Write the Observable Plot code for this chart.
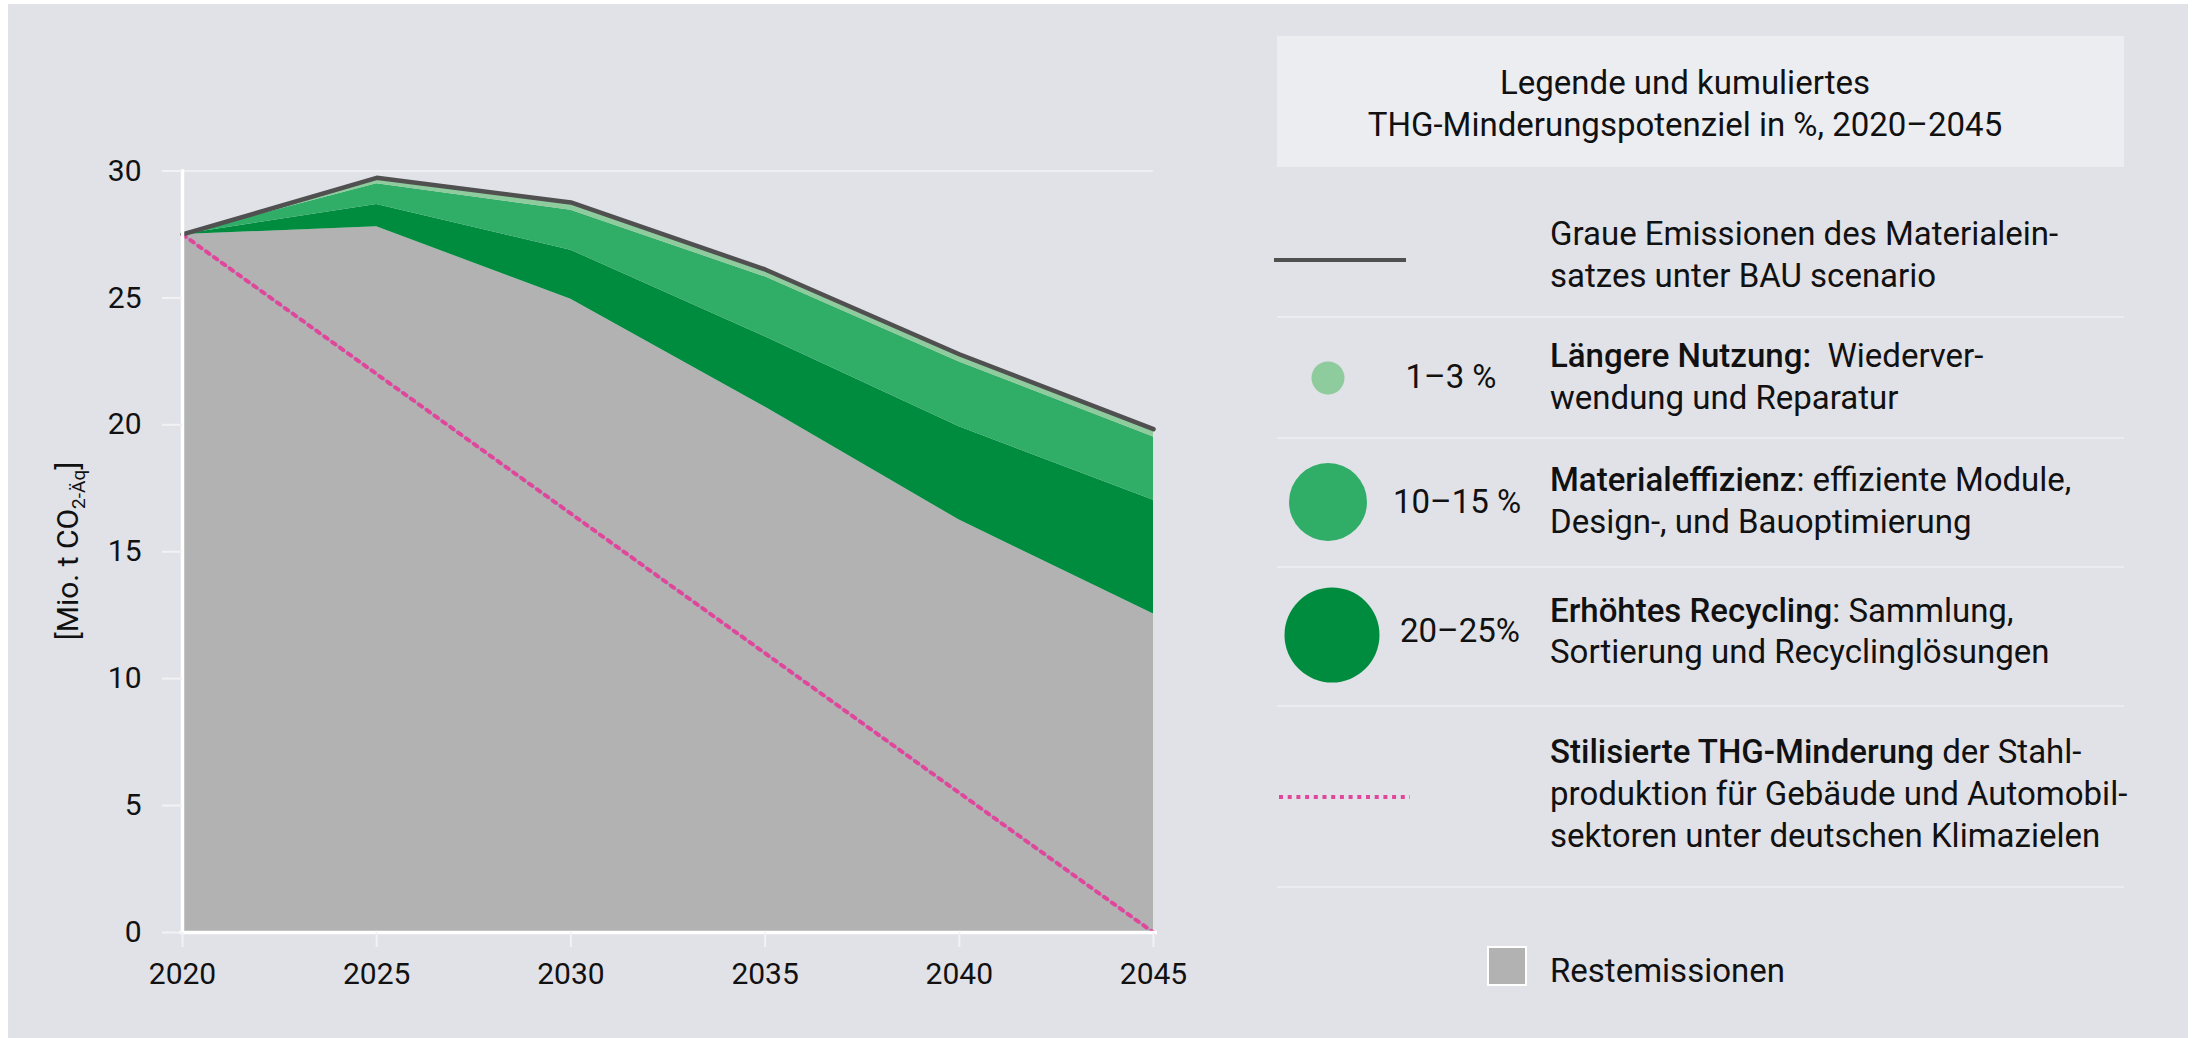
<!DOCTYPE html>
<html>
<head>
<meta charset="utf-8">
<script src="https://cdn.jsdelivr.net/npm/d3@7"></script>
<script src="https://cdn.jsdelivr.net/npm/@observablehq/plot@0.6"></script>
<style>
  html, body { margin: 0; padding: 0; background: #ffffff; width: 2193px; height: 1038px; overflow: hidden; }
  #panel { position: absolute; left: 8px; top: 4px; width: 2180px; height: 1034px; background: #e1e2e7; }
  #chart { position: absolute; left: 0; top: 0; }
  #legend { position: absolute; left: 1240px; top: 0; }
  svg text { font-family: Roboto, "Open Sans", sans-serif; }
</style>
</head>
<body>
<div id="panel"></div>
<div id="chart"></div>
<div id="legend"></div>
<script>
// ---- data ----
const years = [2020, 2025, 2030, 2035, 2040, 2045];
const restemissionen = [27.5, 27.8, 24.95, 20.7, 16.25, 12.55];
const recycling = [0, 0.88, 1.93, 2.77, 3.67, 4.48];
const materialeffizienz = [0, 0.82, 1.57, 2.36, 2.56, 2.49];
const laengereNutzung = [0, 0.23, 0.31, 0.29, 0.30, 0.31];
const bauEmissionen = [27.5, 29.73, 28.76, 26.12, 22.78, 19.83];
const pfadYears = [2020, 2045];
const pfadValues = [27.5, 0];
const yTicks = [0, 5, 10, 15, 20, 25, 30];
const xTicks = [2020, 2025, 2030, 2035, 2040, 2045];

const layerNames = ["Restemissionen", "Erhöhtes Recycling", "Materialeffizienz", "Längere Nutzung"];
const layerColors = ["#b2b2b2", "#008c3e", "#30ad67", "#8ecb9d"];
const layerValues = [restemissionen, recycling, materialeffizienz, laengereNutzung];

const legendTitle = ["Legende und kumuliertes", "THG-Minderungspotenziel in %, 2020–2045"];
const legendBAU = ["Graue Emissionen des Materialein-", "satzes unter BAU scenario"];
const legendPct = ["1–3 %", "10–15 %", "20–25%"];
const legendLead = ["Längere Nutzung:", "Materialeffizienz", "Erhöhtes Recycling"];
const legendRest = ["  Wiederver-", ": effiziente Module,", ": Sammlung,"];
const legendSecond = ["wendung und Reparatur", "Design-, und Bauoptimierung", "Sortierung und Recyclinglösungen"];
const legendPfadLead = "Stilisierte THG-Minderung";
const legendPfad = [" der Stahl-", "produktion für Gebäude und Automobil-", "sektoren unter deutschen Klimazielen"];
const legendRestLabel = "Restemissionen";

// ---- tables built from arrays ----
const stackRows = [];
layerNames.forEach((name, i) => {
  years.forEach((yr, j) => stackRows.push({year: yr, value: layerValues[i][j], layer: name}));
});
const bauRows = years.map((yr, j) => ({year: yr, value: bauEmissionen[j]}));
const pfadRows = pfadYears.map((yr, j) => ({year: yr, value: pfadValues[j]}));

const chart = Plot.plot({
  width: 1240,
  height: 1038,
  marginLeft: 182,
  marginRight: 87,
  marginTop: 170.5,
  marginBottom: 106,
  style: {background: "transparent", fontSize: "30px", fontFamily: "Roboto, 'Open Sans', sans-serif", color: "#111111", overflow: "visible"},
  x: {domain: [2020, 2045]},
  y: {domain: [0, 30]},
  color: {domain: layerNames, range: layerColors},
  marks: [
    Plot.ruleY([30], {x1: 2020, x2: 2045, stroke: "#eeeef2", strokeWidth: 2}),
    Plot.areaY(stackRows, {x: "year", y: "value", z: "layer", fill: "layer"}),
    Plot.line(pfadRows, {x: "year", y: "value", stroke: "#9e9cc6", strokeWidth: 1.2}),
    Plot.line(pfadRows, {x: "year", y: "value", stroke: "#e0479b", strokeWidth: 4, strokeDasharray: "4,5.7"}),
    Plot.line(bauRows, {x: "year", y: "value", stroke: "#505050", strokeWidth: 4.5, strokeLinejoin: "round"}),
    Plot.ruleY([0], {x1: 2019.93, x2: 2045.1, stroke: "#ffffff", strokeWidth: 3.5}),
    Plot.ruleX([2020], {y1: 0, y2: 30.05, stroke: "#ffffff", strokeWidth: 3.5}),
    Plot.axisY({ticks: yTicks, tickSize: 20, tickPadding: 21, stroke: "#f2f2f5", strokeWidth: 2, fill: "#111111", label: null}),
    Plot.axisX({ticks: xTicks, tickFormat: d => String(d), tickSize: 15, tickPadding: 15, stroke: "#f2f2f5", strokeWidth: 2, fill: "#111111", label: null})
  ]
});
document.getElementById("chart").appendChild(chart);

// y-axis label with subscript
const ylab = d3.select(chart).append("text")
  .attr("transform", "translate(78,551) rotate(-90)")
  .attr("text-anchor", "middle")
  .attr("fill", "#111111")
  .style("font-size", "30px");
ylab.append("tspan").text("[Mio. t CO");
ylab.append("tspan").attr("dy", 7).style("font-size", "19px").text("2-Äq");
ylab.append("tspan").attr("dy", -7).text("]");

// ---- legend ----
const OX = 1240;
const L = d3.select("#legend").append("svg").attr("width", 953).attr("height", 1038)
  .style("overflow", "visible");
const FS = 33;
function txt(x, y, anchor) {
  return L.append("text").attr("x", x - OX).attr("y", y).attr("text-anchor", anchor || "start")
    .attr("fill", "#111111").style("font-size", FS + "px").style("font-weight", 400);
}
L.append("rect").attr("x", 1277 - OX).attr("y", 36).attr("width", 847).attr("height", 131).attr("fill", "#ecedf1");
txt(1685, 94, "middle").text(legendTitle[0]);
txt(1685, 136, "middle").text(legendTitle[1]);

const sepY = [317, 438, 567, 706, 887];
sepY.forEach(y => L.append("line").attr("x1", 1277 - OX).attr("x2", 2124 - OX).attr("y1", y).attr("y2", y)
  .attr("stroke", "#ececf0").attr("stroke-width", 2));

// BAU row
L.append("line").attr("x1", 1274 - OX).attr("x2", 1406 - OX).attr("y1", 260).attr("y2", 260)
  .attr("stroke", "#505050").attr("stroke-width", 4);
txt(1550, 245).text(legendBAU[0]);
txt(1550, 287).text(legendBAU[1]);

// circle rows
const circ = [
  {cx: 1328, cy: 378, r: 16.5, color: layerColors[3], pctX: 1451, pctY: 388, y1: 367, y2: 409},
  {cx: 1328, cy: 502, r: 39, color: layerColors[2], pctX: 1457, pctY: 513, y1: 491, y2: 533},
  {cx: 1332, cy: 635, r: 47.5, color: layerColors[1], pctX: 1460, pctY: 642, y1: 622, y2: 663}
];
circ.forEach((c, i) => {
  L.append("circle").attr("cx", c.cx - OX).attr("cy", c.cy).attr("r", c.r).attr("fill", c.color);
  txt(c.pctX, c.pctY, "middle").text(legendPct[i]);
  const t = txt(1550, c.y1);
  t.append("tspan").style("font-weight", 500).text(legendLead[i]);
  t.append("tspan").style("white-space", "pre").text(legendRest[i]);
  txt(1550, c.y2).text(legendSecond[i]);
});

// pfad row
L.append("line").attr("x1", 1279 - OX).attr("x2", 1410 - OX).attr("y1", 797).attr("y2", 797)
  .attr("stroke", "#e0479b").attr("stroke-width", 4).attr("stroke-dasharray", "4,4.7");
const tp = txt(1550, 763);
tp.append("tspan").style("font-weight", 500).text(legendPfadLead);
tp.append("tspan").style("white-space", "pre").text(legendPfad[0]);
txt(1550, 805).text(legendPfad[1]);
txt(1550, 847).text(legendPfad[2]);

// Restemissionen
L.append("rect").attr("x", 1488 - OX).attr("y", 947).attr("width", 38).attr("height", 38)
  .attr("fill", layerColors[0]).attr("stroke", "#ffffff").attr("stroke-width", 2);
txt(1550, 982).text(legendRestLabel);
</script>
</body>
</html>
